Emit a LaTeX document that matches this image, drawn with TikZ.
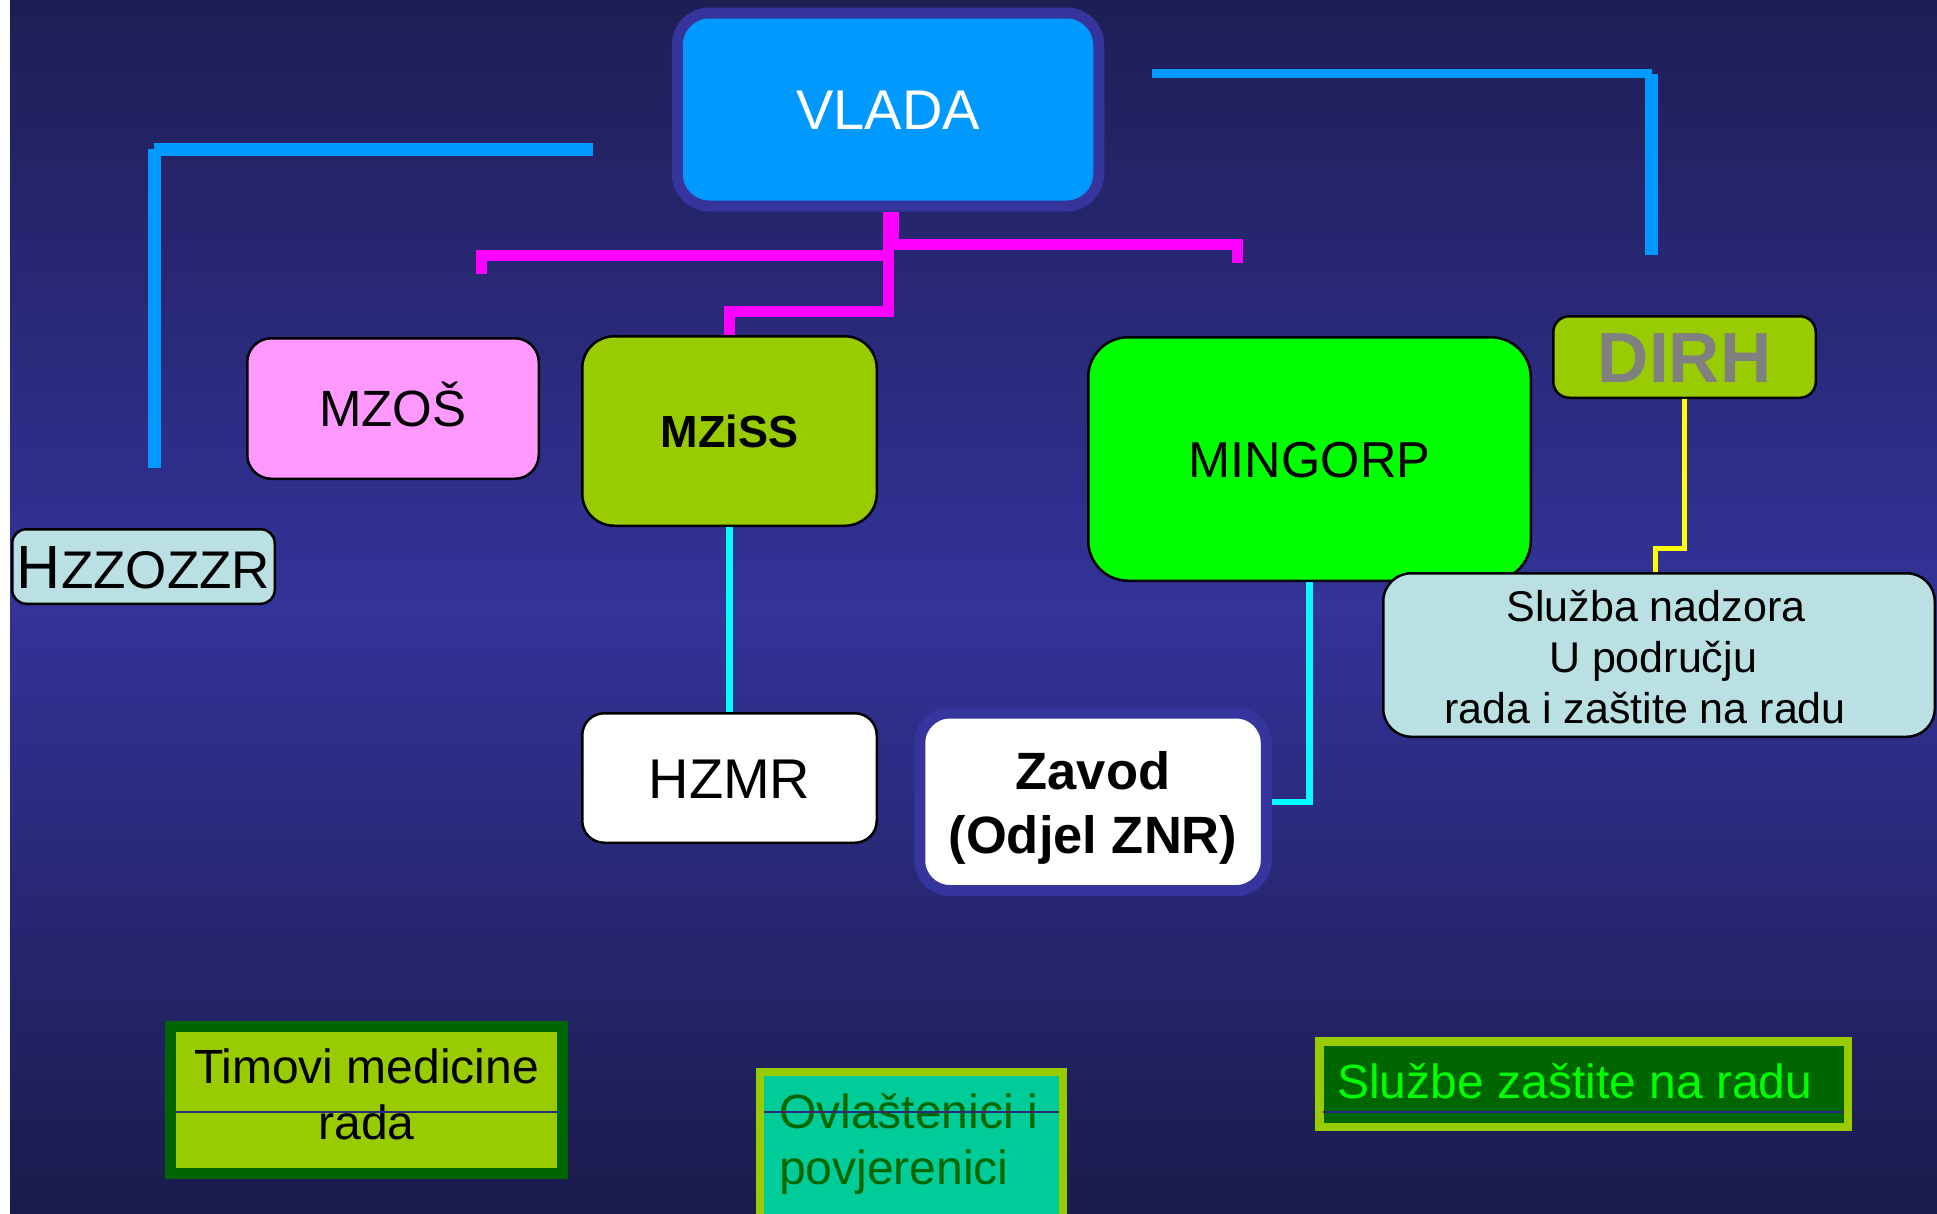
\documentclass[tikz,border=0pt]{standalone}
\usepackage{fontspec}
\setmainfont{Liberation Sans}
\usetikzlibrary{calc}
\definecolor{bgtop}{HTML}{1E1E55}
\definecolor{bgmid}{HTML}{333399}
\definecolor{bgbot}{HTML}{1B1B4C}
\definecolor{vborder}{HTML}{35359D}
\definecolor{vfill}{HTML}{0099FF}
\definecolor{pinkf}{HTML}{FF99FF}
\definecolor{olive1}{HTML}{99CC00}
\definecolor{green1}{HTML}{00FF00}
\definecolor{gray1}{HTML}{808080}
\definecolor{lightc}{HTML}{BBE0E3}
\definecolor{dgreen}{HTML}{006600}
\definecolor{teal1}{HTML}{00CC99}
\definecolor{lblue}{HTML}{0099FF}
\definecolor{magenta1}{HTML}{FF00FF}
\definecolor{cyan1}{HTML}{00FFFF}
\definecolor{yellow1}{HTML}{FFFF00}
\definecolor{rulecol}{HTML}{2A2A7A}
\newcommand{\myfs}[2]{\fontsize{#1pt}{#2pt}\selectfont}
\newcommand{\padr}[1]{\rule{#1}{0pt}}
\begin{document}
\begin{tikzpicture}[x=1pt,y=-1pt,
  orgbox/.style={draw=black,line width=2.5pt,inner sep=0pt},
  thickbox/.style={line width=11pt,inner sep=0pt},
  blueline/.style={draw=lblue,line cap=butt},
  magline/.style={draw=magenta1,line width=11pt,line join=miter},
  cyanline/.style={draw=cyan1,line width=6.5pt},
  yelline/.style={draw=yellow1,line width=5pt,line join=miter},
  hairrule/.style={draw=rulecol,line width=1.5pt}]
\useasboundingbox (0,0) rectangle (1937,1213);
\fill[white] (0,0) rectangle (10,1213);
\shade[top color=bgtop, bottom color=bgbot, middle color=bgmid] (10,0) rectangle (1937,1213);

% nodes
\node[thickbox, draw=vborder, fill=vfill, rounded corners=32pt, minimum width=421.5pt, minimum height=193pt, text=white, font=\myfs{56}{67}, text height=40pt, text depth=0pt] (vlada) at (888,109.5) {VLADA};
\node[orgbox, fill=pinkf, rounded corners=24pt, minimum width=291.5pt, minimum height=140.5pt, font=\myfs{51}{61}, text height=36.5pt, text depth=0pt] (mzos) at (393,408.5) {MZOŠ};
\node[orgbox, fill=olive1, rounded corners=32pt, minimum width=294.5pt, minimum height=189.5pt, font=\bfseries\myfs{45}{54}, text height=32pt, text depth=0pt] (mziss) at (729.5,431) {MZiSS};
\node[orgbox, fill=green1, rounded corners=40pt, minimum width=442.5pt, minimum height=243.5pt, font=\myfs{50.5}{60}, text height=36pt, text depth=0pt] (mingorp) at (1309.5,459) {MINGORP};
\node[orgbox, fill=olive1, rounded corners=16pt, minimum width=262.5pt, minimum height=81.5pt, text=gray1, font=\bfseries\myfs{71}{85}, text height=51pt, text depth=0pt] (dirh) at (1684.5,357) {DIRH};
\node[orgbox, fill=lightc, rounded corners=14pt, minimum width=262.5pt, minimum height=74.5pt, text height=43.5pt, text depth=0pt] (hzz) at (143.5,566.5) {\myfs{61}{73}H\myfs{53}{64}ZZOZZR};
\node[orgbox, fill=white, rounded corners=22pt, minimum width=294.5pt, minimum height=129.5pt, font=\myfs{56}{67}, text height=40pt, text depth=0pt] (hzmr) at (729.5,778) {HZMR};
\node[thickbox, draw=vborder, fill=white, rounded corners=30pt, minimum width=346.5pt, minimum height=177.5pt, font=\bfseries\myfs{52.5}{64}, text depth=6.3pt] (zavod) at (1093,801.75) {\begin{tabular}[b]{@{}c@{}}Zavod\\(Odjel ZNR)\end{tabular}};
\node[orgbox, fill=lightc, rounded corners=28pt, minimum width=551.5pt, minimum height=163.5pt, font=\myfs{43}{51}, text depth=1.7pt] (sluzba) at (1659,655) {\begin{tabular}[b]{@{}c@{}}Služba nadzora\padr{6pt}\\U području\padr{12pt}\\rada i zaštite na radu\padr{28pt}\end{tabular}};

\node[thickbox, draw=dgreen, fill=olive1, minimum width=392pt, minimum height=146.5pt, font=\myfs{48}{56}, text depth=16.7pt] (timovi) at (366.5,1099.75) {\begin{tabular}[b]{@{}c@{}}Timovi medicine\\rada\end{tabular}};
\node[draw=olive1, line width=8pt, inner sep=0pt, fill=teal1, minimum width=302.5pt, minimum height=148pt, text=dgreen, font=\myfs{48}{56}, text depth=19.2pt] (ovl) at (911.25,1146) {\begin{tabular}[b]{@{}p{264pt}@{}}Ovlaštenici i\\povjerenici\end{tabular}};
\node[draw=olive1, line width=8.5pt, inner sep=0pt, fill=dgreen, minimum width=528.5pt, minimum height=85.5pt, text=green1, font=\myfs{48}{58}, text height=34pt, text depth=6pt] (sluzbe) at (1583.5,1084) {Službe zaštite na radu\padr{17.5pt}};

\draw[hairrule] (176,1112) -- (557,1112);
\draw[hairrule] (764,1112) -- (1059,1112);
\draw[hairrule] (1323,1112) -- (1844,1112);

% connectors
\coordinate (bl1) at (593,149.5);
\coordinate (bl2) at (154,149.5);
\coordinate (bl3) at (154.5,149);
\coordinate (bl4) at (154.5,468);
\coordinate (br1) at (1152,73.5);
\coordinate (br2) at (1652,73.5);
\coordinate (br3) at (1651.5,74);
\coordinate (br4) at (1651.5,255);
\draw[blueline, line width=13pt] (bl1) -- (bl2);
\draw[blueline, line width=13pt] (bl3) -- (bl4);
\draw[blueline, line width=9pt] (br1) -- (br2);
\draw[blueline, line width=12.5pt] (br3) -- (br4);

\coordinate (mL) at (481.5,274);
\coordinate (mR) at (1237.5,263);
\draw[magline] (vlada.south) -- ++(0,43.5) -| (mL);
\draw[magline] ([xshift=5.5pt]vlada.south) -- ++(0,33) -| (mR);
\draw[magline] (vlada.south) -- ++(0,100) -| (mziss.north);

\draw[cyanline] (mziss.south) -- (hzmr.north);
\draw[cyanline] (mingorp.south) |- (zavod.east);

\coordinate (yk) at (1655.5,548.5);
\draw[yelline] (dirh.south) |- (yk) -- (yk |- sluzba.north);
\end{tikzpicture}
\end{document}
